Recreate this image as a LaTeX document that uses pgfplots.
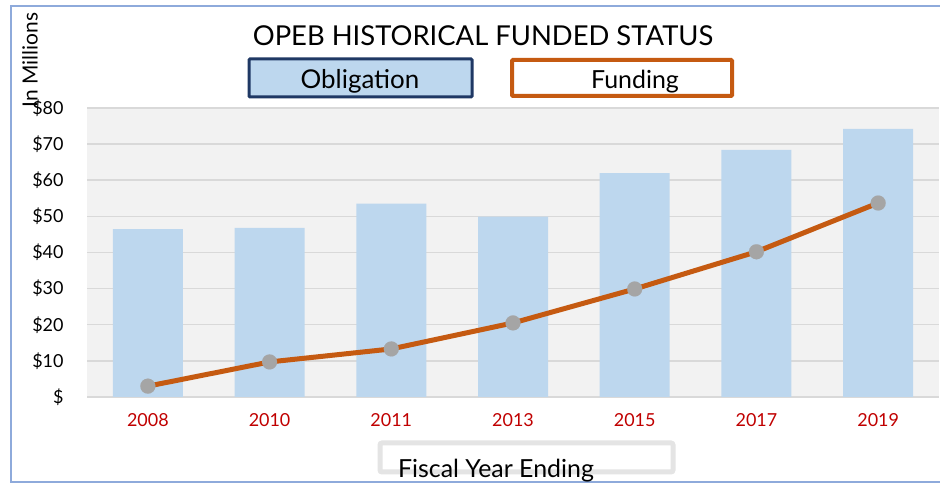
\documentclass[border=0pt]{standalone}
\usepackage{pgfplots}
\pgfplotsset{compat=1.18}
\usepackage{fontspec}
\setmainfont{Lato}
\definecolor{bgray}{HTML}{F2F2F2}
\definecolor{gridc}{HTML}{D9D9D9}
\definecolor{barc}{HTML}{BDD7EE}
\definecolor{linec}{HTML}{C55A11}
\definecolor{markc}{HTML}{A5A5A5}
\definecolor{navy}{HTML}{1F3864}
\definecolor{frame}{HTML}{8EAADB}
\definecolor{tickred}{HTML}{C00000}
\begin{document}
\begin{tikzpicture}[x=1bp,y=1bp]
% outer frame
\draw[frame, line width=2.5bp] (11,0) -- (11,477) -- (940,477);
\draw[frame, line width=2bp] (11,1) -- (940,1);
\begin{axis}[
  at={(87bp,86bp)}, anchor=south west,
  scale only axis, width=852bp, height=289bp,
  xmin=-0.5, xmax=6.5, ymin=0, ymax=80,
  axis background/.style={fill=bgray},
  ytick={0,10,...,80},
  yticklabels={\$,\$10,\$20,\$30,\$40,\$50,\$60,\$70,\$80},
  xtick={0,...,6},
  xticklabels={2008,2010,2011,2013,2015,2017,2019},
  xtick style={draw=none},
  ytick style={draw=none},
  extra x ticks={-0.5,0.5,1.5,2.5,3.5,4.5,5.5,6.5},
  extra x tick labels={},
  extra x tick style={tick style={draw=gridc, line width=1.2bp}, major tick length=7bp, tick align=outside},
  ymajorgrids,
  grid style={gridc, line width=1.5bp},
  axis x line*=bottom,
  axis y line*=left,
  y axis line style={draw=none},
  x axis line style={draw=gridc, line width=1.2bp, -},
  yticklabel style={font=\fontsize{18}{18}\selectfont, black, xshift=-20bp},
  xticklabel style={font=\fontsize{18}{18}\selectfont, tickred, yshift=-13bp},
  clip=false,
]
\addplot[ybar, bar width=70bp, fill=barc, draw=none] coordinates {
 (0,46.5) (1,46.8) (2,53.5) (3,49.9) (4,62.0) (5,68.4) (6,74.2)};
\addplot[linec, line width=5bp, mark=*, mark size=7.5bp,
  mark options={solid, fill=markc, draw=markc, line width=0.1bp}] coordinates {
 (0,3.0) (1,9.7) (2,13.3) (3,20.5) (4,29.9) (5,40.2) (6,53.7)};
\end{axis}
% title
\node[font=\fontsize{27.5}{27.5}\selectfont, anchor=base] at (483,437) {OPEB HISTORICAL FUNDED STATUS};
% legend boxes
\draw[navy, line width=3bp, fill=barc, rounded corners=1bp] (249,386) rectangle (472,424);
\node[font=\fontsize{26}{26}\selectfont, anchor=base] at (360,394) {Obligation};
\draw[linec, line width=4bp, fill=white, rounded corners=1bp] (512,387) rectangle (732,423);
\node[font=\fontsize{25}{25}\selectfont, anchor=base] at (635,394) {Funding};
% y label
\node[font=\fontsize{21}{21}\selectfont, rotate=90, inner sep=0pt] at (30,423) {In Millions};
% x label box
\draw[gridc!70, line width=5bp, fill=white, rounded corners=2bp] (380,11) rectangle (673,40);
\node[font=\fontsize{25}{25}\selectfont, anchor=base, inner sep=0pt] at (496,5) {Fiscal Year Ending};
\pgfresetboundingbox
\path[use as bounding box] (0,0) rectangle (940,483);
\end{tikzpicture}
\end{document}
